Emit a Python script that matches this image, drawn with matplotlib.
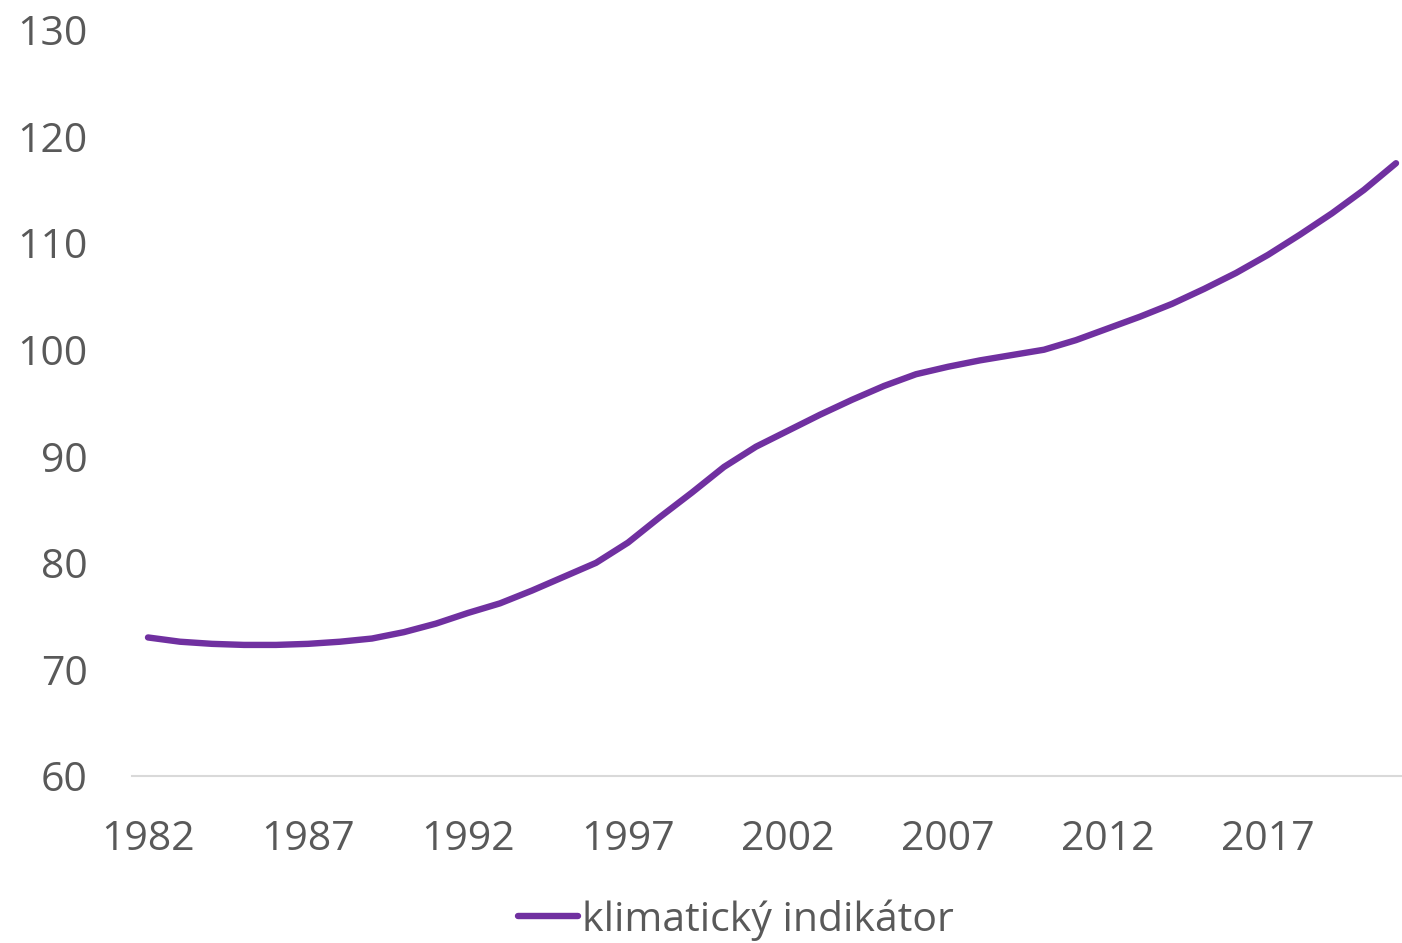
import matplotlib
matplotlib.use("Agg")
import matplotlib.pyplot as plt
from matplotlib.lines import Line2D

years = list(range(1982, 2022))
values = [73.0, 72.6, 72.4, 72.3, 72.3, 72.4, 72.6, 72.9, 73.5, 74.3,
          75.3, 76.2, 77.4, 78.7, 80.0, 81.9, 84.3, 86.6, 89.0, 90.9,
          92.4, 93.9, 95.3, 96.6, 97.7, 98.4, 99.0, 99.5, 100.0, 100.9,
          102.0, 103.1, 104.3, 105.7, 107.2, 108.9, 110.8, 112.8, 115.0, 117.5]
xtick_years = [1982, 1987, 1992, 1997, 2002, 2007, 2012, 2017]
yticks = [60, 70, 80, 90, 100, 110, 120, 130]
series_name = "klimatický indikátor"

W, H = 1402, 943
fig = plt.figure(figsize=(W / 100, H / 100), dpi=100)
plt.rcParams['font.family'] = ['Open Sans', 'DejaVu Sans']
left = 132 / W
bottom = 1 - 776 / H
top = 1 - 30 / H
ax = fig.add_axes([left, bottom, 1 - left, top - bottom])

color = "#7030A0"
text_color = "#595959"
fs = 29.5
ax.plot(years, values, color=color, lw=4.6, solid_capstyle="round", solid_joinstyle="round")

ax.set_xlim(1981.5, 1981.5 + (W - 132) / 32)
ax.set_ylim(60, 130)
ax.set_yticks(yticks)
ax.set_xticks(xtick_years)
ax.tick_params(axis="both", length=0, labelsize=fs, colors=text_color)
ax.tick_params(axis="y", pad=32)
ax.tick_params(axis="x", pad=31)
for s in ["top", "right", "left"]:
    ax.spines[s].set_visible(False)
ax.spines["bottom"].set_color("#D9D9D9")
ax.spines["bottom"].set_linewidth(1.5)

handle = Line2D([], [], color=color, lw=4.6, solid_capstyle="round")
leg = fig.legend([handle], [series_name], loc="center", bbox_to_anchor=(736 / W, 1 - 920 / H),
                 frameon=False, fontsize=fs, handlelength=1.45, handletextpad=0.1,
                 labelcolor=text_color)

fig.savefig("out.png", dpi=100)
